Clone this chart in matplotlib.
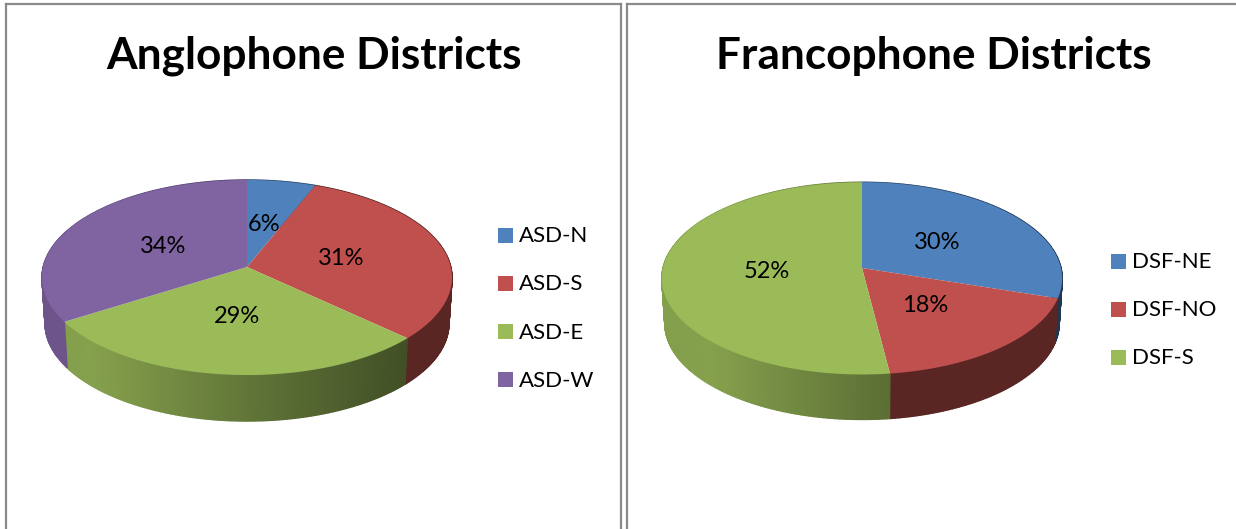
#!/usr/bin/env python3
"""Two 3D-looking pie charts: share of students per school district."""

import numpy as np
import matplotlib
matplotlib.use("Agg")
import matplotlib.pyplot as plt
from matplotlib.patches import Rectangle

anglophone_labels = ["ASD-N", "ASD-S", "ASD-E", "ASD-W"]
anglophone_values = [6, 31, 29, 34]

francophone_labels = ["DSF-NE", "DSF-NO", "DSF-S"]
francophone_values = [30, 18, 52]

BLUE = "#4f81bd"
RED = "#c0504d"
GREEN = "#9bbb59"
PURPLE = "#8064a2"
COLORS = [BLUE, RED, GREEN, PURPLE]

plt.rcParams["font.family"] = ["Lato", "DejaVu Sans"]
W, H = 1236, 529


def project(theta, r, cx, cy, b, a, k=0.1077):
    """Circle on the table -> screen, theta clockwise from 12 o'clock."""
    u = r * np.sin(theta)
    v = r * np.cos(theta)
    d = 1 + k * v
    return cx + b * u / d, cy - a * v / d


def shade(color, x, xmin, xmax):
    t = (x - xmin) / (xmax - xmin)
    f = np.interp(t, [0, 0.12, 0.55, 0.9, 1], [0.85, 0.86, 0.6, 0.42, 0.42])
    if color == RED:
        f = 0.47  # red wall is nearly flat in the original
    return tuple(c * f for c in matplotlib.colors.to_rgb(color))


def pie3d(ax, values, cx, cy, b, a, depth):
    edges = np.cumsum([0] + list(values)) / sum(values) * 2 * np.pi

    # side wall first, the top face covers whatever is at the back
    for i in range(len(values)):
        th = np.arange(edges[i], edges[i + 1] + 0.012, 0.012)
        th = np.minimum(th, edges[i + 1])
        xt, yt = project(th, 1, cx, cy, b, a)
        xb = cx + (xt - cx) * 0.985
        yb = yt + depth
        for j in range(len(th) - 1):
            c = shade(COLORS[i], xt[j], cx - b, cx + b)
            ax.fill([xt[j], xt[j + 1], xb[j + 1], xb[j]],
                    [yt[j], yt[j + 1], yb[j + 1], yb[j]],
                    color=c, lw=1.0, zorder=2)

    for i in range(len(values)):
        th = np.linspace(edges[i], edges[i + 1], 200)
        x, y = project(th, 1, cx, cy, b, a)
        ax.fill(np.r_[cx, x], np.r_[cy, y], color=COLORS[i], lw=0, zorder=3)

        mid = (edges[i] + edges[i + 1]) / 2
        tx, ty = project(mid, 0.48, cx, cy, b, a)
        ax.text(tx, ty + 1, f"{values[i]}%", ha="center", va="center",
                fontsize=17, color="black", zorder=4)


def legend(ax, labels, x, y0, step):
    for i, lab in enumerate(labels):
        y = y0 + i * step
        ax.add_patch(Rectangle((x, y - 7.5), 14.5, 15, color=COLORS[i], lw=0, zorder=3))
        ax.text(x + 21, y + 1, lab, ha="left", va="center", fontsize=16, color="black")


fig = plt.figure(figsize=(W / 100, H / 100), dpi=100)
ax = fig.add_axes([0, 0, 1, 1])
ax.set_xlim(0, W)
ax.set_ylim(H, 0)
ax.axis("off")

# panel frames
GRAY = "#8a8a8a"
ax.plot([6, 6], [H, 4], color=GRAY, lw=1.6)
ax.plot([6, 621], [4, 4], color=GRAY, lw=1.6)
ax.plot([621, 621], [4, H], color=GRAY, lw=1.6)
ax.plot([627, 627], [H, 4], color=GRAY, lw=1.6)
ax.plot([627, W], [4, 4], color=GRAY, lw=1.6)

ax.text(314, 56, "Anglophone Districts", ha="center", va="center",
        fontsize=31.8, fontweight="bold", color="black")
ax.text(934, 56, "Francophone Districts", ha="center", va="center",
        fontsize=31.8, fontweight="bold", color="black")

pie3d(ax, anglophone_values, 247, 267, 203.8, 96.4, 46)
pie3d(ax, francophone_values, 862, 268, 199, 95, 45)

legend(ax, anglophone_labels, 498, 235, 48.3)
legend(ax, francophone_labels, 1111, 261, 48)

fig.savefig("out.png", dpi=100)
